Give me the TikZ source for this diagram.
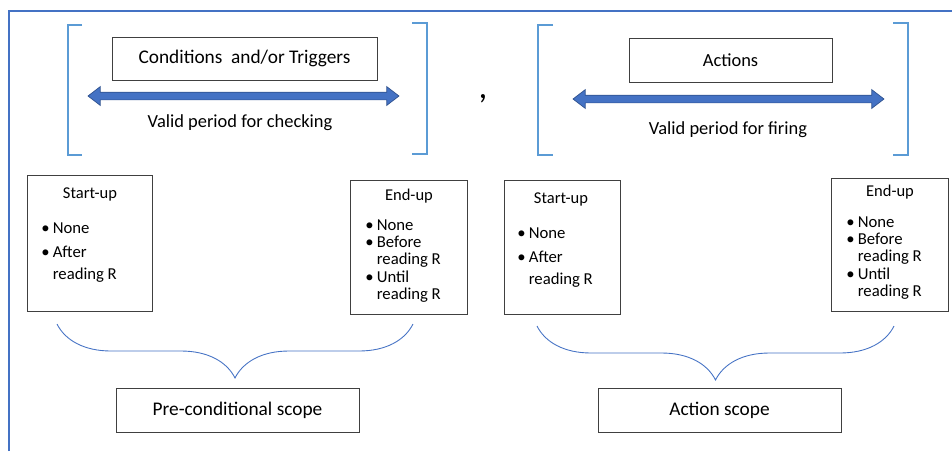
\documentclass[tikz,border=0pt]{standalone}
\usepackage{fontspec}
\setmainfont{Carlito}
\usetikzlibrary{shapes.arrows,decorations.pathreplacing}

\definecolor{frameblue}{HTML}{4472C4}
\definecolor{brackblue}{HTML}{5B9BD5}
\definecolor{arrowedge}{HTML}{2F528F}

\newcommand{\itm}{\makebox[0.23cm][l]{\textbullet}}
\newcommand{\ind}{\hspace*{0.23cm}}

\tikzset{
  box/.style={draw=black!75, line width=0.5pt, inner sep=0pt},
  bracket/.style={draw=brackblue, line width=1.1pt},
  period/.style={double arrow, draw=arrowedge, fill=frameblue, line width=0.4pt,
    minimum width=0.36cm, minimum height=6.22cm, inner sep=0.07cm,
    double arrow head extend=0.11cm, double arrow tip angle=75},
  scopebrace/.style={draw=frameblue, line width=0.5pt, decorate,
    decoration={brace, mirror, amplitude=1.08cm}},
  lbl/.style={inner sep=0pt, font=\fontsize{10.5}{12}\selectfont},
  ttl/.style={inner sep=0pt, font=\fontsize{9.4}{11}\selectfont},
  lst/.style={inner sep=0pt, align=left, anchor=north west},
  scopebox/.style={box, font=\fontsize{11}{13}\selectfont, minimum width=4.86cm, minimum height=0.88cm},
}

\begin{document}
\begin{tikzpicture}[x=0.02cm, y=-0.02cm]
\useasboundingbox (0,0) rectangle (952,451);
% page frame
\draw[frameblue, line width=0.9pt] (9,451) -- (9,11) -- (952,11);

% --- trigger side ---
\draw[bracket] (82,25) -- (68,25) -- (68,155) -- (82,155);
\draw[bracket] (412,23) -- (427,23) -- (427,154) -- (412,154);
\node[box, lbl, font=\fontsize{11}{12}\selectfont, minimum width=5.3cm, minimum height=0.86cm] (cond) at (244.5,58.5) {Conditions \ and/or Triggers};
\node[period] (chk) at (243.5,96) {};
\node[lbl] (chktxt) at (240,123) {Valid period for checking};

\node[font=\fontsize{20}{20}\selectfont, inner sep=0pt] (comma) at (483,99) {,};

% --- action side ---
\draw[bracket] (553,25) -- (538,25) -- (538,155) -- (553,155);
\draw[bracket] (893,23) -- (908,23) -- (908,155) -- (893,155);
\node[box, lbl, minimum width=4.06cm, minimum height=0.88cm] (act) at (730.5,60) {Actions};
\node[period] (fire) at (728.5,99) {};
\node[lbl] (firetxt) at (728,130) {Valid period for firing};

% start-up / end-up boxes, left
\node[box, minimum width=2.5cm, minimum height=2.72cm] (su1) at (89.5,243) {};
\node[ttl] (su1t) at (90,194) {Start-up};
\node[lst, font=\fontsize{9.5}{12.8}\selectfont] (su1l) at (41,222) {\itm None\\[1pt] \itm After\\ \ind reading R};

\node[box, minimum width=2.34cm, minimum height=2.68cm] (eu1) at (408.5,247) {};
\node[ttl] (eu1t) at (409,196) {End-up};
\node[lst, font=\fontsize{9.5}{9.9}\selectfont] (eu1l) at (365,219) {\itm None\\ \itm Before\\ \ind reading R\\ \itm Until\\ \ind reading R};

% start-up / end-up boxes, right
\node[box, minimum width=2.32cm, minimum height=2.68cm] (su2) at (562,247) {};
\node[ttl] (su2t) at (561,199) {Start-up};
\node[lst, font=\fontsize{9.5}{12.8}\selectfont] (su2l) at (517,227) {\itm None\\[1pt] \itm After\\ \ind reading R};

\node[box, minimum width=2.34cm, minimum height=2.66cm] (eu2) at (889.5,244.5) {};
\node[ttl] (eu2t) at (890,192) {End-up};
\node[lst, font=\fontsize{9.5}{9.9}\selectfont] (eu2l) at (846,216) {\itm None\\ \itm Before\\ \ind reading R\\ \itm Until\\ \ind reading R};

% scope boxes and their braces
\node[scopebox] (pre) at (237.5,410) {Pre-conditional scope};
\node[scopebox] (ascope) at (719.5,410) {Action scope};
\draw[scopebrace] (57,324) -- (413,324);
\draw[scopebrace] (537,326) -- (894,326);
\end{tikzpicture}
\end{document}
